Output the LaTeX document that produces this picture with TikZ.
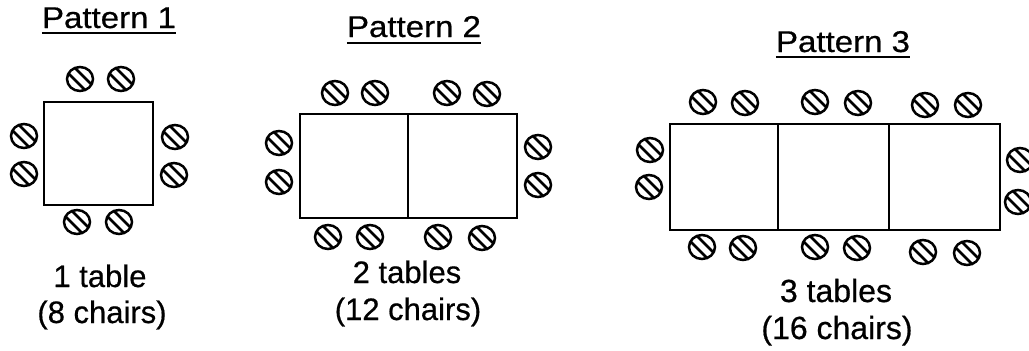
\documentclass[tikz,border=0pt]{standalone}
\usepackage{fontspec}
\setmainfont{Liberation Sans}
\newfontfamily\ttlfont[FakeStretch=1.1,FakeBold=0.6]{Liberation Sans}
\newfontfamily\lblfontfam[FakeBold=0.6]{Liberation Sans}
\usetikzlibrary{shapes.geometric}
\begin{document}
\begin{tikzpicture}[x=1pt,y=-1pt,
  tbl/.style={draw, line width=2.2pt, minimum height=104pt, inner sep=0pt},
  chair/.style={ellipse, draw, line width=2.5pt, minimum width=26pt, minimum height=24pt, inner sep=0pt,
    path picture={\foreach \k in {-4.2,4.2}{\draw[line width=2.6pt] ([shift={(\k*0.707pt-20pt,\k*0.707pt+20pt)}]path picture bounding box.center) -- ++(40pt,-40pt);}}},
  ttl/.style={font=\ttlfont\fontsize{30}{34}\selectfont, inner sep=0pt, anchor=base},
  lbl/.style={font=\lblfontfam\fontsize{31}{36}\selectfont, inner sep=0pt, anchor=base},
  uline/.style={line width=1.6pt}]
\useasboundingbox (0,0) rectangle (1029,351);
\clip (0,0) rectangle (1029,351);
% ---------- Pattern 1 ----------
\node[ttl] (h1) at (109,28) {Pattern 1};
\draw[uline] ([yshift=-5pt]h1.base west) -- ([yshift=-5pt]h1.base east);
\node[tbl, minimum width=109pt, minimum height=103pt] (t1) at (98.5,153.5) {};
\node[chair] (c1a) at (80,79) {};
\node[chair] (c1b) at (121,79) {};
\node[chair] (c1c) at (24,136) {};
\node[chair] (c1d) at (24,174) {};
\node[chair] (c1e) at (175,137) {};
\node[chair] (c1f) at (174,175) {};
\node[chair] (c1g) at (77,222) {};
\node[chair] (c1h) at (119,222) {};
\node[lbl] (l1a) at (100,287) {1 table};
\node[lbl] (l1b) at (102,323) {(8 chairs)};
% ---------- Pattern 2 ----------
\node[ttl] (h2) at (414,37) {Pattern 2};
\draw[uline] ([yshift=-6pt]h2.base west) -- ([yshift=-6pt]h2.base east);
\node[tbl, minimum width=108pt] (t2a) at (354,166) {};
\node[tbl, minimum width=109pt] (t2b) at (462.5,166) {};
\node[chair] (c2a) at (335,93) {};
\node[chair] (c2b) at (375,93) {};
\node[chair] (c2c) at (447,93) {};
\node[chair] (c2d) at (487,94) {};
\node[chair] (c2e) at (279,143) {};
\node[chair] (c2f) at (279,182) {};
\node[chair] (c2g) at (538,147) {};
\node[chair] (c2h) at (538,185) {};
\node[chair] (c2i) at (328,237) {};
\node[chair] (c2j) at (370,237) {};
\node[chair] (c2k) at (438,237) {};
\node[chair] (c2l) at (482,238) {};
\node[lbl] (l2a) at (407,283) {2 tables};
\node[lbl] (l2b) at (408,320) {(12 chairs)};
% ---------- Pattern 3 ----------
\node[ttl] (h3) at (843,52) {Pattern 3};
\draw[uline] ([yshift=-5pt]h3.base west) -- ([yshift=-5pt]h3.base east);
\node[tbl, minimum width=108pt, minimum height=106pt] (t3a) at (724,177) {};
\node[tbl, minimum width=111pt, minimum height=106pt] (t3b) at (833.5,177) {};
\node[tbl, minimum width=111pt, minimum height=106pt] (t3c) at (944.5,177) {};
\node[chair] (c3a) at (703,102) {};
\node[chair] (c3b) at (745,103) {};
\node[chair] (c3c) at (815,102) {};
\node[chair] (c3d) at (858,103) {};
\node[chair] (c3e) at (925,105) {};
\node[chair] (c3f) at (968,105) {};
\node[chair] (c3g) at (650,150) {};
\node[chair] (c3h) at (649,187) {};
\node[chair] (c3i) at (1020,160) {};
\node[chair] (c3j) at (1018,202) {};
\node[chair] (c3k) at (702,247) {};
\node[chair] (c3l) at (743,248) {};
\node[chair] (c3m) at (815,247) {};
\node[chair] (c3n) at (857,248) {};
\node[chair] (c3o) at (923,252) {};
\node[chair] (c3p) at (967,253) {};
\node[lbl, font=\lblfontfam\fontsize{32}{38}\selectfont] (l3a) at (836,302) {3 tables};
\node[lbl, font=\lblfontfam\fontsize{32}{38}\selectfont] (l3b) at (837,339) {(16 chairs)};
\end{tikzpicture}
\end{document}
